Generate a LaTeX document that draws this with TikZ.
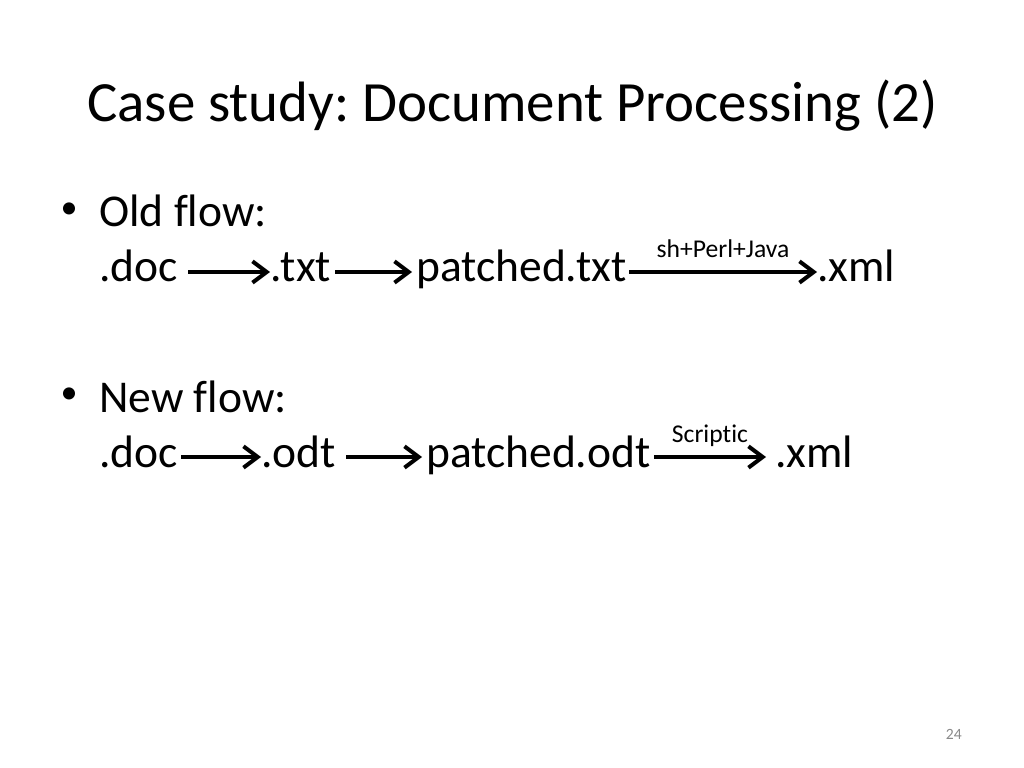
\documentclass[tikz,border=0pt]{standalone}
\usepackage{fontspec}
\setmainfont{Carlito}[Ligatures=NoCommon]
\usepackage{tikz}
\usetikzlibrary{arrows.meta, positioning, calc}
\definecolor{numgris}{RGB}{137,137,137}
\newcommand{\titlesize}{\fontsize{40}{48}\selectfont}
\newcommand{\bodysize}{\fontsize{32}{38}\selectfont}
\newcommand{\toolsize}{\fontsize{18}{22}\selectfont}
\frenchspacing
\tikzset{>={Straight Barb[length=10pt,width=15pt,line width=2.8pt]}}
\tikzset{flow/.style={->, line width=2.8pt}, word/.style={anchor=base west, inner sep=0pt, font=\bodysize}, tool/.style={midway, anchor=base, yshift=10pt, inner sep=0pt, font=\toolsize}}

\begin{document}
\begin{tikzpicture}[x=0.703125pt, y=-0.703125pt]
	\useasboundingbox [fill=white] (0,0) rectangle (1024,768);

	\node [anchor=base west, inner sep=0pt, font=\titlesize] (title) at (87,122) {Case study: Document Processing (2)};

	% old flow
	\node [anchor=center, inner sep=0pt, font=\fontsize{24}{28}\selectfont] (oldbul) at (69,211) {\textbullet};
	\node [word] (oldhead) at (99,227) {Old flow:};
	\node [word] (odoc) at (99,282) {.doc};
	\node [word] (otxt) at (270,282) {.txt};
	\node [word] (opatched) at (416,282) {patched.txt};
	\node [word] (oxml) at (817,282) {.xml};

	\draw [flow] ($(odoc.base east)+(10,-10)$) -- ($(otxt.base west)+(0,-10)$);
	\draw [flow] ($(otxt.base east)+(4,-10)$) -- ($(opatched.base west)+(-4,-10)$);
	\draw [flow] ($(opatched.base east)+(2,-10)$) -- ($(oxml.base west)+(0,-10)$) node [tool] {sh+Perl+Java};

	% new flow
	\node [anchor=center, inner sep=0pt, font=\fontsize{24}{28}\selectfont] (newbul) at (69,396) {\textbullet};
	\node [word] (newhead) at (99,412) {New flow:};
	\node [word] (ndoc) at (99,467) {.doc};
	\node [word] (nodt) at (261,467) {.odt};
	\node [word] (npatched) at (426,467) {patched.odt};
	\node [word] (nxml) at (775,467) {.xml};

	\draw [flow] ($(ndoc.base east)+(3,-10)$) -- ($(nodt.base west)+(0,-10)$);
	\draw [flow] ($(nodt.base east)+(10,-10)$) -- ($(npatched.base west)+(-4,-10)$);
	\draw [flow] ($(npatched.base east)+(3,-10)$) -- ($(nxml.base west)+(-9,-10)$) node [tool] {Scriptic};

	\node [anchor=base east, inner sep=0pt, numgris, font=\fontsize{11}{13}\selectfont] (pagenum) at (962,739) {24};
\end{tikzpicture}
\end{document}
